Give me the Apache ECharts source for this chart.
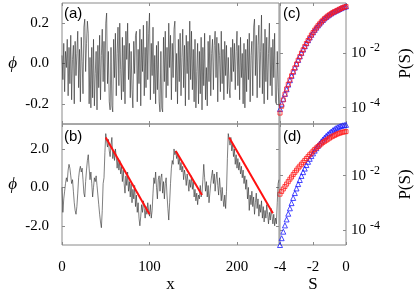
<!DOCTYPE html>
<html><head><meta charset="utf-8">
<script src="https://cdn.jsdelivr.net/npm/echarts@6/dist/echarts.min.js"></script>
<style>html,body{margin:0;padding:0;background:#fff}#c{width:415px;height:294px}</style>
</head><body><div id="c"></div>
<script>
// ---------- data ----------
const xTicks = [0, 100, 200];
const phiATicks = [-0.2, 0, 0.2];
const phiBTicks = [-2, 0, 2];
const sTicks = [-4, -2, 0];
const pTicks = [1e-4, 1e-2];

// panel (a): phi at x = 0..248
const phiA = [
0.04,-0.08,0.10,-0.14,0.06,-0.02,0.12,-0.16,0.08,-0.10,
0.14,-0.18,0.02,0.09,-0.20,0.11,-0.06,0.05,0.16,-0.12,
0.07,-0.19,0.13,0.01,-0.15,0.18,0.22,-0.04,0.10,0.21,
0.15,-0.20,0.03,-0.22,0.08,-0.17,0.12,-0.21,-0.05,0.06,
-0.23,0.09,-0.12,0.14,-0.18,0.04,0.17,-0.09,0.11,-0.14,
0.20,0.25,-0.10,0.06,-0.19,-0.23,0.08,-0.21,-0.24,0.12,
-0.07,0.15,-0.16,0.05,0.18,-0.11,0.20,-0.03,-0.18,0.13,
-0.14,0.09,-0.20,0.16,0.02,0.20,-0.08,0.10,-0.17,0.06,
-0.13,-0.22,0.11,-0.05,0.14,0.16,-0.19,0.07,-0.10,0.17,
-0.21,0.12,-0.04,0.19,-0.16,0.08,-0.12,0.21,-0.08,0.15,
0.25,-0.18,0.10,-0.06,0.18,-0.15,0.04,-0.20,0.09,-0.13,
0.11,-0.19,-0.24,0.06,-0.22,-0.24,0.13,-0.09,0.16,-0.17,
0.08,-0.11,0.20,-0.02,0.14,-0.18,0.10,-0.07,0.17,0.21,
-0.14,0.05,-0.20,0.12,-0.09,0.15,-0.16,0.03,0.17,-0.12,
0.09,-0.21,0.14,-0.05,0.11,-0.18,0.21,-0.08,0.16,-0.13,
0.07,-0.19,0.12,-0.22,-0.04,0.10,-0.20,0.06,-0.15,0.13,
-0.23,0.08,-0.11,0.15,-0.18,-0.02,-0.21,0.11,-0.09,0.14,
-0.16,0.05,0.12,-0.13,0.09,0.16,-0.07,0.13,-0.19,0.10,
0.04,-0.14,0.16,-0.10,0.07,-0.18,0.11,-0.06,0.09,-0.15,
0.03,-0.12,-0.17,0.08,-0.09,0.12,-0.04,0.10,-0.13,0.06,
0.16,-0.11,0.09,-0.18,0.13,-0.07,0.05,-0.20,0.10,-0.22,
0.07,-0.14,0.12,-0.08,0.15,-0.19,0.04,0.11,-0.16,0.18,
0.22,-0.06,0.14,-0.17,0.09,0.19,-0.12,0.06,0.24,-0.15,
0.10,-0.20,0.17,-0.09,0.13,-0.18,0.05,0.20,-0.11,0.08,
-0.16,0.12,-0.07,0.15,-0.19,-0.20,0.06,-0.12,-0.21
];

// panel (b): phi at x = 0..248
const phiB = [
0.0,-1.3,-0.6,-0.2,0.2,0.5,0.3,0.9,1.2,1.0,
0.6,0.2,0.4,-0.2,-0.8,-1.2,-1.4,-1.0,-0.3,0.5,
0.9,1.1,0.8,1.0,0.4,-0.3,-0.5,0.3,0.9,1.4,
1.7,1.0,0.4,0.8,0.2,-0.5,0.0,0.5,0.3,0.6,
0.1,-0.4,-0.9,-1.4,-1.8,-2.1,-1.2,0.2,0.5,1.8,
2.8,2.4,2.1,2.5,1.9,1.6,2.2,2.6,1.5,1.9,
1.4,2.0,1.6,1.0,1.5,0.9,1.4,0.7,1.1,0.3,
0.9,0.2,-0.3,0.6,0.1,0.8,-0.2,0.3,-0.5,0.2,
-0.8,-0.1,-0.6,0.1,-1.0,-0.4,-1.3,-0.8,-1.6,-2.0,
-1.5,-0.9,-1.3,-0.7,-1.1,-1.6,-1.0,-1.4,-0.8,-1.2,
-1.5,-0.9,-1.6,-1.2,-0.3,0.5,0.2,0.8,0.0,-0.6,
0.4,0.6,-0.2,0.5,0.7,-0.3,0.3,-0.6,0.2,0.5,
-0.4,-1.1,-1.7,-0.8,0.2,1.0,1.4,1.2,2.0,1.7,
1.9,1.5,1.8,1.2,1.6,0.9,1.3,0.8,1.1,0.4,
0.9,0.6,0.1,0.7,0.3,-0.2,0.4,0.0,0.6,-0.1,
0.3,-0.5,-0.1,-0.7,-0.3,-0.9,-0.4,-0.6,0.1,-0.5,
-0.3,0.4,1.2,0.5,-0.2,0.3,-0.5,0.1,-0.8,-0.3,
0.2,0.6,0.9,0.2,0.7,-0.2,0.4,0.8,0.1,-0.4,
0.5,-0.1,-0.7,0.0,-0.6,-1.0,-0.4,-1.1,-0.2,1.5,
2.8,2.5,2.2,2.6,1.9,2.3,1.6,2.0,1.2,1.7,
1.0,1.5,0.9,1.3,0.7,1.1,0.5,0.9,0.2,0.6,
-0.1,0.4,-0.6,0.0,-1.2,-0.4,-0.9,-0.2,-1.0,-0.5,
-1.4,-0.8,-0.3,-1.1,-0.6,-1.5,-0.9,-1.3,-0.7,-1.6,
-1.0,-1.8,-1.2,-1.6,-0.9,-1.4,-1.9,-1.3,-1.7,-1.1,
-1.5,-1.9,-1.4,-2.0,-1.6,-1.9,-0.8,0.2,0.4
];

// red fitted segments in (b)
const fitStartX = [50, 130, 191];
const fitStartY = [2.6, 1.9, 2.6];
const fitEndX   = [100, 160, 241];
const fitEndY   = [-1.4, -0.4, -1.35];

// panels (c),(d): S values and log10 P(S)
const S = [-4.0,-3.9,-3.8,-3.7,-3.6,-3.5,-3.4,-3.3,-3.2,-3.1,-3.0,-2.9,-2.8,-2.7,-2.6,-2.5,-2.4,-2.3,-2.2,-2.1,-2.0,-1.9,-1.8,-1.7,-1.6,-1.5,-1.4,-1.3,-1.2,-1.1,-1.0,-0.9,-0.8,-0.7,-0.6,-0.5,-0.4,-0.3,-0.2,-0.1,0.0];
const cBlueLog = [-4.05,-3.86,-3.68,-3.50,-3.33,-3.16,-3.00,-2.84,-2.69,-2.54,-2.40,-2.26,-2.13,-2.00,-1.88,-1.76,-1.65,-1.54,-1.44,-1.34,-1.25,-1.16,-1.08,-1.00,-0.93,-0.86,-0.80,-0.74,-0.69,-0.64,-0.60,-0.56,-0.52,-0.49,-0.46,-0.43,-0.40,-0.37,-0.34,-0.32,-0.30];
const cRedLog  = [-4.20,-3.95,-3.72,-3.51,-3.32,-3.15,-2.99,-2.84,-2.69,-2.55,-2.41,-2.27,-2.14,-2.01,-1.89,-1.77,-1.66,-1.55,-1.45,-1.35,-1.26,-1.17,-1.09,-1.01,-0.94,-0.87,-0.81,-0.75,-0.70,-0.65,-0.61,-0.57,-0.53,-0.50,-0.47,-0.44,-0.41,-0.38,-0.35,-0.33,-0.31];
const dBlueLog = [-4.55,-4.30,-4.06,-3.83,-3.61,-3.40,-3.20,-3.01,-2.82,-2.64,-2.47,-2.31,-2.16,-2.01,-1.87,-1.74,-1.61,-1.49,-1.38,-1.28,-1.18,-1.08,-0.99,-0.90,-0.82,-0.74,-0.67,-0.60,-0.54,-0.48,-0.43,-0.38,-0.33,-0.29,-0.25,-0.22,-0.19,-0.17,-0.15,-0.14,-0.13];
const dRedLog  = [-2.68,-2.58,-2.49,-2.40,-2.31,-2.22,-2.13,-2.05,-1.96,-1.88,-1.80,-1.72,-1.65,-1.58,-1.51,-1.44,-1.37,-1.30,-1.23,-1.17,-1.10,-1.04,-0.98,-0.93,-0.88,-0.83,-0.78,-0.74,-0.70,-0.66,-0.62,-0.58,-0.55,-0.52,-0.49,-0.46,-0.44,-0.42,-0.40,-0.39,-0.38];

// ---------- chart ----------
const frame = '#8a8a8a';
const serif = 'Liberation Serif';
const sans = 'Liberation Sans';
const lbl = {fontFamily: serif, fontSize: 15, color: '#000'};
const grids = [
  {left: 62, top: 3, width: 217, height: 121},
  {left: 62, top: 124, width: 217, height: 124},
  {left: 280, top: 3, width: 72, height: 121},
  {left: 280, top: 124, width: 72, height: 124}
].map(g => Object.assign(g, {show: true, borderColor: frame, borderWidth: 1, containLabel: false}));

function tick(vals){ return {show: true, inside: true, length: 3, lineStyle: {color: frame}, customValues: vals}; }
const noLine = {show: false, onZero: false};
function xAx(grid, min, max, vals, pos, labels, name){
  return {type: 'value', gridIndex: grid, min: min, max: max, position: pos,
    axisLine: noLine, splitLine: {show: false}, axisTick: tick(vals),
    axisLabel: labels ? Object.assign({show: true, margin: 15, customValues: vals, formatter: v => String(v)}, lbl) : {show: false},
    name: name || '', nameLocation: 'middle', nameGap: 31,
    nameTextStyle: {fontFamily: serif, fontSize: 17, color: '#000'}};
}
function yLin(grid, min, max, vals, pos, labels){
  return {type: 'value', gridIndex: grid, min: min, max: max, position: pos,
    axisLine: noLine, splitLine: {show: false}, axisTick: tick(vals),
    axisLabel: labels ? Object.assign({show: true, margin: 13, customValues: vals, formatter: v => v.toFixed(1)}, lbl) : {show: false},
    name: labels ? 'ϕ' : '', nameLocation: 'middle', nameRotate: 0, nameGap: 45,
    nameTextStyle: {fontFamily: serif, fontStyle: 'italic', fontSize: 17, color: '#000'}};
}
function yLog(grid, min, max, pos, labels){
  return {type: 'log', logBase: 10, gridIndex: grid, min: min, max: max, position: pos,
    axisLine: noLine, splitLine: {show: false}, axisTick: tick(pTicks),
    axisLabel: labels ? {show: true, margin: 5, customValues: pTicks,
      formatter: v => '{b|10}{s|' + Math.round(Math.log10(v)) + '}',
      rich: {b: {fontFamily: serif, fontSize: 15, color: '#000'},
             s: {fontFamily: serif, fontSize: 12, color: '#000', padding: [0, 0, 9, 4]}}} : {show: false},
    name: labels ? 'P(S)' : '', nameLocation: 'middle', nameRotate: 90, nameGap: 51,
    nameTextStyle: {fontFamily: serif, fontSize: 17, color: '#000'}};
}

const xAxis = [
  xAx(0, 0, 248, xTicks, 'bottom', false), xAx(0, 0, 248, xTicks, 'top', false),
  xAx(1, 0, 248, xTicks, 'bottom', true, 'x'), xAx(1, 0, 248, xTicks, 'top', false),
  xAx(2, -4, 0, sTicks, 'bottom', false), xAx(2, -4, 0, sTicks, 'top', false),
  xAx(3, -4, 0, sTicks, 'bottom', true, 'S'), xAx(3, -4, 0, sTicks, 'top', false)
];
const yAxis = [
  yLin(0, -0.3, 0.3, phiATicks, 'left', true), yLin(0, -0.3, 0.3, phiATicks, 'right', false),
  yLin(1, -3, 3.3, phiBTicks, 'left', true), yLin(1, -3, 3.3, phiBTicks, 'right', false),
  yLog(2, Math.pow(10, -4.6), Math.pow(10, -0.18), 'right', true), yLog(2, Math.pow(10, -4.6), Math.pow(10, -0.18), 'left', false),
  yLog(3, Math.pow(10, -4.55), Math.pow(10, -0.1), 'right', true), yLog(3, Math.pow(10, -4.55), Math.pow(10, -0.1), 'left', false)
];

const lineStyle = {color: '#2a2a2a', width: 0.6};
const series = [
  {type: 'line', xAxisIndex: 0, yAxisIndex: 0, showSymbol: false, symbol: 'none', lineStyle: lineStyle,
   data: phiA.map((v, i) => [i, v]), animation: false},
  {type: 'line', xAxisIndex: 2, yAxisIndex: 2, showSymbol: false, symbol: 'none', lineStyle: lineStyle,
   data: phiB.map((v, i) => [i, v]), animation: false}
];
fitStartX.forEach((x0, k) => {
  series.push({type: 'line', xAxisIndex: 2, yAxisIndex: 2, symbol: 'none', animation: false,
    lineStyle: {color: '#ff1010', width: 2}, z: 3,
    data: [[x0, fitStartY[k]], [fitEndX[k], fitEndY[k]]]});
});
function scat(xi, yi, logs, sym, color, size){
  return {type: 'scatter', xAxisIndex: xi, yAxisIndex: yi, symbol: sym, symbolSize: size, animation: false,
    itemStyle: {color: 'rgba(0,0,0,0)', borderColor: color, borderWidth: 1},
    data: logs.map((l, i) => [S[i], Math.pow(10, l)])};
}
series.push(scat(4, 4, cBlueLog, 'triangle', '#1a1aff', 5));
series.push(scat(4, 4, cRedLog, 'rect', '#ff1a1a', 4));
series.push(scat(6, 6, dBlueLog, 'triangle', '#1a1aff', 5));
series.push(scat(6, 6, dRedLog, 'rect', '#ff1a1a', 4));

const panelText = (t, x, y) => ({type: 'text', left: x, top: y, silent: true,
  style: {text: t, fontFamily: sans, fontSize: 15, fill: '#000'}});

const chart = echarts.init(document.getElementById('c'), null, {renderer: 'canvas'});
chart.setOption({
  animation: false,
  grid: grids, xAxis: xAxis, yAxis: yAxis, series: series,
  graphic: [panelText('(a)', 64, 6), panelText('(b)', 64, 129), panelText('(c)', 283, 6), panelText('(d)', 283, 129)]
});
</script></body></html>
